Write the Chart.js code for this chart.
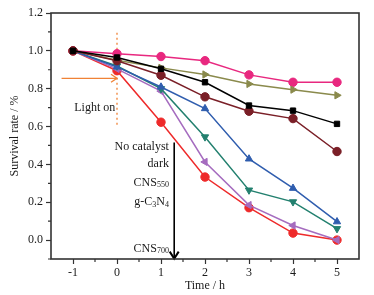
<!DOCTYPE html>
<html>
<head>
<meta charset="utf-8">
<script src="https://cdn.jsdelivr.net/npm/chart.js@4"></script>
<style>
  html, body { margin: 0; padding: 0; background: #fff; }
  #wrap { width: 374px; height: 295px; }
</style>
</head>
<body>
<div id="wrap"><canvas id="survivalChart" width="374" height="295"></canvas></div>
<script>
// time points (h) and survival rate of each curve
const timeH = [-1, 0, 1, 2, 3, 4, 5];
const xTicks = [-1, 0, 1, 2, 3, 4, 5];
const yTicks = [0.0, 0.2, 0.4, 0.6, 0.8, 1.0, 1.2];

const pinkRate   = [1.0, 0.985, 0.970, 0.948, 0.873, 0.834, 0.834];
const oliveRate  = [1.0, 0.950, 0.910, 0.875, 0.825, 0.795, 0.765];
const blackRate  = [1.0, 0.965, 0.905, 0.834, 0.711, 0.684, 0.614];
const maroonRate = [1.0, 0.948, 0.871, 0.757, 0.681, 0.642, 0.468];
const blueRate   = [1.0, 0.915, 0.809, 0.695, 0.429, 0.274, 0.097];
const tealRate   = [1.0, 0.920, 0.800, 0.545, 0.264, 0.202, 0.060];
const purpleRate = [1.0, 0.905, 0.787, 0.413, 0.185, 0.077, 0.000];
const redRate    = [1.0, 0.895, 0.623, 0.333, 0.171, 0.037, 0.000];

// text labels beside the black arrow: [main, subscript, rest, subscript, y value]
const sampleLabels = [
  ['No catalyst', '', '', '', 0.491],
  ['dark', '', '', '', 0.405],
  ['CNS', '550', '', '', 0.305],
  ['g-C', '3', 'N', '4', 0.204],
  ['CNS', '700', '', '', -0.044]
];

const toPoints = (arr) => arr.map((v, i) => ({ x: timeH[i], y: v }));

function series(label, values, color, style, rotation) {
  return {
    label: label,
    data: toPoints(values),
    borderColor: color,
    backgroundColor: color,
    borderWidth: 1.5,
    pointStyle: style,
    rotation: rotation || 0,
    pointRadius: style === 'rect' ? 3.8 : 4.2,
    pointBorderWidth: 1,
    tension: 0
  };
}

const serif = "'Liberation Serif', 'Times New Roman', serif";
Chart.defaults.font.family = serif;
Chart.defaults.font.size = 12;
Chart.defaults.color = '#1a1a1a';

// frame, minor ticks and the annotations
const decor = {
  id: 'decor',
  beforeDatasetsDraw(chart) {
    const { ctx } = chart;
    const xs = chart.scales.x, ys = chart.scales.y;
    ctx.save();
    // light on - dotted line
    ctx.strokeStyle = '#F08236';
    ctx.lineWidth = 1.3;
    ctx.setLineDash([2, 3]);
    ctx.beginPath();
    ctx.moveTo(xs.getPixelForValue(0), ys.getPixelForValue(1.095));
    ctx.lineTo(xs.getPixelForValue(0), ys.getPixelForValue(0.61));
    ctx.stroke();
    ctx.setLineDash([]);
    // orange arrow
    const ay = ys.getPixelForValue(0.855);
    const ax0 = xs.getPixelForValue(-1.26), ax1 = xs.getPixelForValue(0.0);
    ctx.beginPath();
    ctx.moveTo(ax0, ay); ctx.lineTo(ax1, ay);
    ctx.moveTo(ax1 - 6, ay - 4); ctx.lineTo(ax1, ay); ctx.lineTo(ax1 - 6, ay + 4);
    ctx.stroke();
    // black arrow
    const bx = xs.getPixelForValue(1.3);
    const by0 = ys.getPixelForValue(0.515), by1 = ys.getPixelForValue(-0.098);
    ctx.strokeStyle = '#000';
    ctx.lineWidth = 1.6;
    ctx.beginPath();
    ctx.moveTo(bx, by0); ctx.lineTo(bx, by1);
    ctx.stroke();
    ctx.lineWidth = 2;
    ctx.beginPath();
    ctx.moveTo(bx - 4.5, by1 - 7); ctx.lineTo(bx, by1); ctx.lineTo(bx + 4.5, by1 - 7);
    ctx.stroke();
    // texts
    ctx.fillStyle = '#1a1a1a';
    ctx.textBaseline = 'middle';
    ctx.textAlign = 'right';
    ctx.font = '12px ' + serif;
    ctx.fillText('Light on', xs.getPixelForValue(-0.04), ys.getPixelForValue(0.70));
    const rightX = xs.getPixelForValue(1.18);
    const big = '12px ' + serif, small = '8px ' + serif;
    ctx.textAlign = 'left';
    sampleLabels.forEach(([a, s1, b, s2, yv]) => {
      const parts = [[a, big, 0], [s1, small, 3], [b, big, 0], [s2, small, 3]];
      let w = 0;
      parts.forEach(([t, f]) => { ctx.font = f; w += ctx.measureText(t).width; });
      let x = rightX - w;
      const y = ys.getPixelForValue(yv);
      parts.forEach(([t, f, dy]) => {
        ctx.font = f;
        ctx.fillText(t, x, y + dy);
        x += ctx.measureText(t).width;
      });
    });
    ctx.restore();
  },
  afterDraw(chart) {
    const { ctx, chartArea: ca } = chart;
    const xs = chart.scales.x, ys = chart.scales.y;
    ctx.save();
    ctx.strokeStyle = '#333';
    ctx.lineWidth = 1.2;
    ctx.beginPath();
    for (let v = -0.5; v < 5.5; v += 1) {
      const px = xs.getPixelForValue(v);
      ctx.moveTo(px, ca.bottom); ctx.lineTo(px, ca.bottom + 3);
    }
    for (let v = -0.1; v < 1.2; v += 0.2) {
      const py = ys.getPixelForValue(v);
      ctx.moveTo(ca.left, py); ctx.lineTo(ca.left - 3, py);
    }
    ctx.stroke();
    ctx.lineWidth = 1.6;
    ctx.strokeRect(ca.left, ca.top, ca.right - ca.left, ca.bottom - ca.top);
    ctx.restore();
  }
};

const ctxSurv = document.getElementById('survivalChart').getContext('2d');

let survivalChart = new Chart(ctxSurv, {
  type: 'line',
  data: {
    datasets: [
      series('No catalyst', blackRate, '#000000', 'rect'),
      series('dark', maroonRate, '#7A1F27', 'circle'),
      series('olive', oliveRate, '#8A8A4C', 'triangle', 90),
      series('blue', blueRate, '#2F5DAE', 'triangle'),
      series('teal', tealRate, '#23806F', 'triangle', 180),
      series('purple', purpleRate, '#A56CBF', 'triangle', 270),
      series('red', redRate, '#EE2A2A', 'circle'),
      series('pink', pinkRate, '#E8287F', 'circle')
    ]
  },
  options: {
    responsive: false,
    animation: { duration: 0 },
    layout: { padding: { top: 13, right: 15, left: 0, bottom: 0 } },
    plugins: {
      legend: { display: false },
      tooltip: { enabled: false }
    },
    scales: {
      x: {
        type: 'linear',
        min: -1.5,
        max: 5.5,
        afterBuildTicks: (s) => { s.ticks = xTicks.map(v => ({ value: v })); },
        afterFit: (s) => { s.height = 36; },
        ticks: { padding: 2, color: '#1a1a1a', font: { size: 12 } },
        grid: { drawOnChartArea: false, tickLength: 5, tickColor: '#333', tickWidth: 1.2 },
        border: { display: false },
        title: { display: true, text: 'Time / h', padding: { top: 0, bottom: 2 }, font: { size: 12 }, color: '#1a1a1a' }
      },
      y: {
        type: 'linear',
        min: -0.1,
        max: 1.2,
        afterBuildTicks: (s) => { s.ticks = yTicks.map(v => ({ value: v })); },
        afterFit: (s) => { s.width = 51; },
        ticks: { padding: 3, color: '#1a1a1a', font: { size: 12 }, callback: (v) => Number(v).toFixed(1) },
        grid: { drawOnChartArea: false, tickLength: 5, tickColor: '#333', tickWidth: 1.2 },
        border: { display: false },
        title: { display: true, text: 'Survival rate / %', padding: { top: 8, bottom: 0 }, font: { size: 12 }, color: '#1a1a1a' }
      }
    }
  },
  plugins: [decor]
});
</script>
</body>
</html>
